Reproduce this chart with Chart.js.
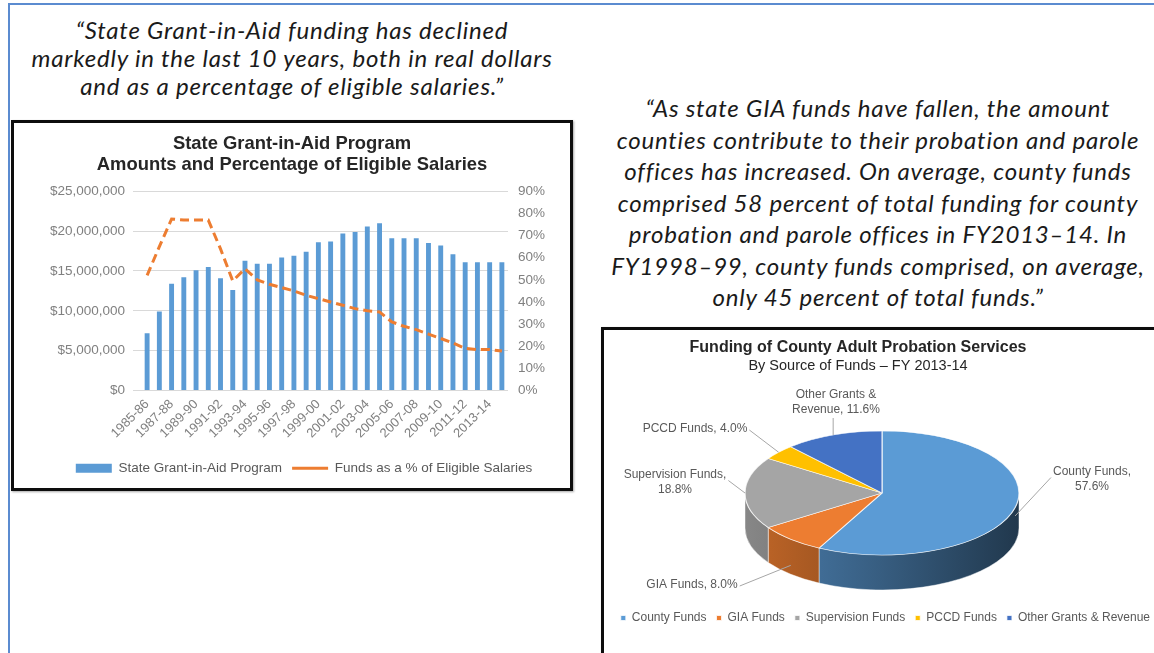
<!DOCTYPE html>
<html>
<head>
<meta charset="utf-8">
<script src="https://cdn.jsdelivr.net/npm/chart.js@4.4.0/dist/chart.umd.min.js"></script>
<style>
html, body { margin: 0; padding: 0; background: #fff; }
body { position: relative; width: 1154px; height: 653px; overflow: hidden; }
.frame { position: absolute; left: 8px; top: 3px; width: 1200px; height: 700px; border-left: 2px solid #5b8bd0; border-top: 2px solid #5b8bd0; }
.quote { position: absolute; font-family: Lato, 'Open Sans', sans-serif; font-style: italic; font-size: 24px; letter-spacing: 0.8px; color: #1a1a1a; text-align: center; white-space: nowrap; }
#q1 { left: 2px; width: 580px; top: 16px; line-height: 28px; }
#q2 { left: 588px; width: 580px; top: 92px; line-height: 31.5px; }
.box { position: absolute; border: 3px solid #0d0d0d; background: #fff; box-shadow: 1px 1px 2px rgba(0,0,0,.35); overflow: hidden; }
#box1 { left: 11px; top: 120px; width: 556px; height: 365px; }
#box2 { left: 601px; top: 327px; width: 600px; height: 400px; }
canvas { display: block; }
</style>
</head>
<body>
<div class="frame"></div>
<div class="quote" id="q1">“State Grant-in-Aid funding has declined<br>markedly in the last 10 years, both in real dollars<br>and as a percentage of eligible salaries.”</div>
<div class="quote" id="q2">“As state GIA funds have fallen, the amount<br>counties contribute to their probation and parole<br>offices has increased. On average, county funds<br>comprised 58 percent of total funding for county<br>probation and parole offices in FY2013–14. In<br>FY1998–99, county funds comprised, on average,<br>only 45 percent of total funds.”</div>
<div class="box" id="box1"><canvas id="giaChart" width="556" height="365"></canvas></div>
<div class="box" id="box2"><canvas id="fundChart" width="550" height="323"></canvas></div>

<script>
const years = ['1985-86','1986-87','1987-88','1988-89','1989-90','1990-91','1991-92','1992-93','1993-94','1994-95',
  '1995-96','1996-97','1997-98','1998-99','1999-00','2000-01','2001-02','2002-03','2003-04','2004-05',
  '2005-06','2006-07','2007-08','2008-09','2009-10','2010-11','2011-12','2012-13','2013-14','2014-15']
const giaAmounts = [7200000, 9900000, 13400000, 14200000, 15100000, 15500000, 14100000, 12600000, 16300000, 15900000,
  15900000, 16700000, 16900000, 17400000, 18600000, 18700000, 19700000, 19900000, 20600000, 21000000,
  19100000, 19100000, 19100000, 18500000, 18200000, 17100000, 16100000, 16100000, 16100000, 16100000]
const pctEligible = [52, 65, 77.5, 77, 77, 77, 64, 49.5, 55, 50,
  48, 46.5, 45, 43, 41.5, 40, 38.5, 37, 36, 35.5,
  31, 29, 27.5, 25.5, 23.5, 21.5, 19, 18.5, 18.5, 17.8]

const fundSources = ['County Funds', 'GIA Funds', 'Supervision Funds', 'PCCD Funds', 'Other Grants & Revenue']
const fundShares = [57.6, 8.0, 18.8, 4.0, 11.6]
const fundColors = ['#5b9bd5', '#ed7d31', '#a5a5a5', '#ffc000', '#4472c4']

const FONT = '"Liberation Sans", Arial, sans-serif'
const tickFont = { family: FONT, size: 13.5 }

// nudge the legend a little right, as in the original
const legendShift = {
  id: 'legendShift',
  afterLayout(chart) { chart.legend.left += 12; chart.legend.right += 12 }
}

// ===== left: bar + line =====
new Chart(document.getElementById('giaChart'), {
  type: 'bar',
  data: {
    labels: years,
    datasets: [
      { type: 'bar', label: 'State Grant-in-Aid Program', data: giaAmounts, backgroundColor: '#5b9bd5',
        yAxisID: 'y', order: 1, barPercentage: 0.4, categoryPercentage: 1, pointStyle: 'rect' },
      { type: 'line', label: 'Funds as a % of Eligible Salaries', data: pctEligible, borderColor: '#ed7d31',
        backgroundColor: '#ed7d31', borderWidth: 3, borderDash: [9, 5], pointRadius: 0, tension: 0,
        yAxisID: 'y1', order: 0, pointStyle: 'line' }
    ]
  },
  plugins: [legendShift],
  options: {
    responsive: false, animation: false,
    layout: { padding: { bottom: 3 } },
    plugins: {
      title: { display: true, text: ['State Grant-in-Aid Program', 'Amounts and Percentage of Eligible Salaries'],
        color: '#262626', font: { family: FONT, size: 18.4, weight: 'bold', lineHeight: 1.15 }, padding: { top: 10, bottom: 16 } },
      legend: { position: 'bottom', labels: { usePointStyle: true, pointStyleWidth: 36, boxHeight: 9, color: '#595959',
        font: tickFont, padding: 10, sort: (a, b) => a.datasetIndex - b.datasetIndex } },
      tooltip: { enabled: false }
    },
    scales: {
      x: { grid: { display: false }, border: { display: false },
        ticks: { autoSkip: false, maxRotation: 45, minRotation: 45, color: '#808080', font: { family: FONT, size: 13 }, padding: -2,
          callback: (v, i) => i % 2 === 0 ? years[i] : '' },
        afterFit: s => { s.height = 61 } },
      y: { position: 'left', min: 0, max: 25000000, grid: { color: '#d9d9d9' }, border: { display: false },
        ticks: { stepSize: 5000000, color: '#808080', font: tickFont, padding: 8,
          callback: v => '$' + v.toLocaleString('en-US') },
        afterFit: s => { s.width = 127 } },
      y1: { position: 'right', min: 0, max: 90, grid: { display: false }, border: { display: false },
        ticks: { stepSize: 10, color: '#808080', font: tickFont, padding: 2, callback: v => v + '%' },
        afterFit: s => { s.width = 62 } }
    }
  }
})

// ===== right: 3D pie =====
function shade(hex, f) {
  const n = parseInt(hex.slice(1), 16)
  return `rgb(${Math.round((n >> 16 & 255) * f)},${Math.round((n >> 8 & 255) * f)},${Math.round((n & 255) * f)})`
}

const pie3d = {
  id: 'pie3d',
  beforeDatasetsDraw(chart, args, o) {
    const ctx = chart.ctx
    const arcs = chart.getDatasetMeta(0).data
    const { x: cx, y: cy } = o.center
    // outer wall, only the front half shows
    arcs.forEach((arc, i) => {
      const a = Math.max(arc.startAngle, 0), b = Math.min(arc.endAngle, Math.PI)
      if (b <= a) return
      const g = ctx.createLinearGradient(cx - o.rx, 0, cx + o.rx, 0)
      g.addColorStop(0, shade(fundColors[i], 0.82))
      g.addColorStop(0.5, shade(fundColors[i], 0.6))
      g.addColorStop(1, shade(fundColors[i], 0.36))
      ctx.beginPath()
      ctx.ellipse(cx, cy, o.rx, o.ry, 0, a, b)
      ctx.ellipse(cx, cy + o.depth, o.rx, o.ry, 0, b, a, true)
      ctx.closePath()
      ctx.fillStyle = g
      ctx.fill()
      ctx.strokeStyle = 'rgba(255,255,255,0.45)'
      ctx.lineWidth = 1
      ctx.stroke()
    })
    // squash the top face into an ellipse
    const R = arcs[0].outerRadius
    ctx.save()
    ctx.translate(cx, cy)
    ctx.scale(o.rx / R, o.ry / R)
    ctx.translate(-arcs[0].x, -arcs[0].y)
  },
  afterDatasetsDraw(chart, args, o) {
    const ctx = chart.ctx
    ctx.restore()
    const arcs = chart.getDatasetMeta(0).data
    const { x: cx, y: cy } = o.center
    ctx.save()
    ctx.font = '12px ' + FONT
    ctx.fillStyle = '#595959'
    ctx.strokeStyle = '#a6a6a6'
    ctx.lineWidth = 1
    ctx.textAlign = 'center'
    ctx.textBaseline = 'middle'
    const lh = 15
    arcs.forEach((arc, i) => {
      const lab = o.labels[i]
      const mid = (arc.startAngle + arc.endAngle) / 2
      const s = Math.sin(mid)
      const ax = cx + o.rx * Math.cos(mid)
      const ay = cy + o.ry * s + (s > 0 ? o.depth * s : 0)
      const text = `${fundSources[i]}, ${fundShares[i].toFixed(1)}%`
      let lines = [text]
      if (lab.brk) {
        const k = text.indexOf(lab.brk) + lab.brk.length
        lines = [text.slice(0, k).trim(), text.slice(k)]
      }
      const tx = cx + lab.dx, ty = cy + lab.dy
      const top = ty - lines.length * lh / 2
      const w = Math.max(...lines.map(l => ctx.measureText(l).width))
      lines.forEach((l, j) => ctx.fillText(l, tx, top + lh * (j + 0.5)))
      let sx, sy
      if (Math.abs(lab.dx) < 80) { sx = ax; sy = top + lines.length * lh + 1 }
      else {
        sx = tx < ax ? tx + w / 2 + 2 : tx - w / 2 - 2
        sy = top + lh * 0.5 + (lines.length > 1 ? 6 : 1)
      }
      ctx.beginPath()
      ctx.moveTo(sx, sy)
      ctx.lineTo(ax, ay)
      ctx.stroke()
    })
    ctx.restore()
  }
}

new Chart(document.getElementById('fundChart'), {
  type: 'pie',
  data: {
    labels: fundSources,
    datasets: [{ data: fundShares, backgroundColor: fundColors, borderColor: 'rgba(255,255,255,0.75)', borderWidth: 1 }]
  },
  plugins: [pie3d],
  options: {
    responsive: false, animation: false,
    layout: { padding: { left: -48, right: -6, bottom: 19 } },
    plugins: {
      title: { display: true, text: 'Funding of County Adult Probation Services', color: '#262626',
        font: { family: FONT, size: 16, weight: 'bold', lineHeight: 1.2 }, padding: { top: 8, bottom: 0 } },
      subtitle: { display: true, text: 'By Source of Funds – FY 2013-14', color: '#262626',
        font: { family: FONT, size: 14.5, lineHeight: 1.2 }, padding: { top: 0, bottom: 10 } },
      legend: { position: 'bottom', align: 'end', labels: { usePointStyle: true, pointStyle: 'rect', boxWidth: 5, boxHeight: 5,
        color: '#595959', font: { family: FONT, size: 12 }, padding: 10 } },
      tooltip: { enabled: false },
      pie3d: {
        center: { x: 278, y: 163 }, rx: 137, ry: 62, depth: 35,
        labels: [
          { dx: 210, dy: -14, brk: ', ' },
          { dx: -190, dy: 92 },
          { dx: -207, dy: -11, brk: ', ' },
          { dx: -187, dy: -64 },
          { dx: -46, dy: -91, brk: '& ' }
        ]
      }
    }
  }
})
</script>
</body>
</html>
